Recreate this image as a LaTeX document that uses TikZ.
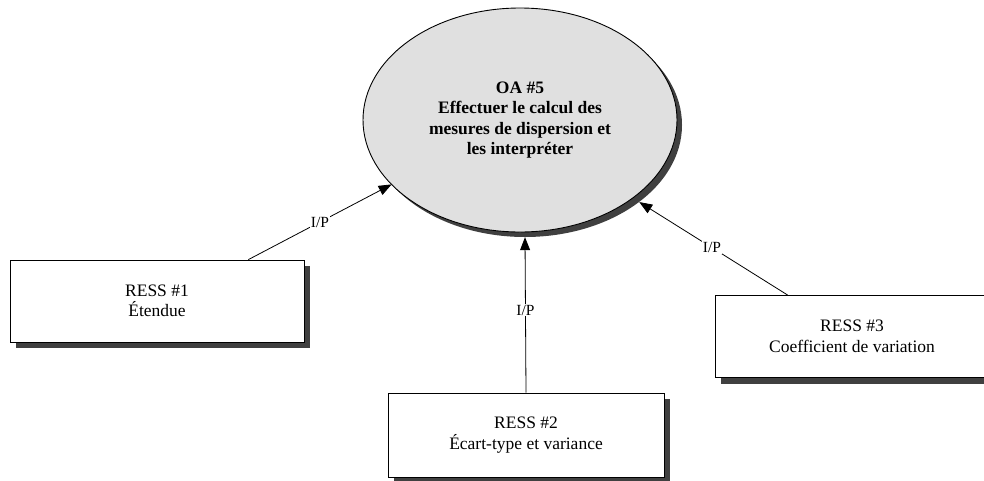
\documentclass[tikz,border=0pt]{standalone}
\usepackage{fontspec}
\setmainfont{Liberation Serif}
\usetikzlibrary{shapes.geometric,arrows.meta,calc}

\definecolor{shadowgray}{HTML}{404040}
\definecolor{goalfill}{HTML}{E0E0E0}

\tikzset{
  goal/.style={ellipse, draw=black, line width=0.9pt, fill=goalfill,
    minimum width=314pt, minimum height=224pt, inner sep=0pt,
    align=center, font=\fontsize{17.5}{20.5}\selectfont\bfseries},
  goalshadow/.style={ellipse, fill=shadowgray, draw=none,
    minimum width=314pt, minimum height=224pt, inner sep=0pt},
  ress/.style={rectangle, draw=black, line width=0.8pt, fill=white,
    minimum height=82pt, inner sep=0pt, align=center,
    font=\fontsize{17.5}{20.5}\selectfont},
  ressshadow/.style={rectangle, fill=shadowgray, draw=none,
    minimum height=82pt, inner sep=0pt},
  link/.style={draw=black, line width=0.8pt,
    -{Triangle[length=13pt,width=10pt]}},
  linklabel/.style={fill=white, inner sep=1pt,
    font=\fontsize{15.5}{17}\selectfont}
}

\begin{document}
\begin{tikzpicture}[x=1pt,y=-1pt]
  \useasboundingbox (0,0) rectangle (984,480);
  \clip (0,0) rectangle (984,480);

  % learning goal with its drop shadow
  \node[goalshadow] (oashadow) at (525,125) {};
  \node[goal] (oa) at (520,120)
    {OA \#5\\Effectuer le calcul des\\mesures de dispersion et\\les interpréter};

  % resources with their drop shadows
  \node[ressshadow, minimum width=294pt] (r1shadow) at (163,307) {};
  \node[ress, minimum width=294pt] (r1) at (157,301) {RESS \#1\\Étendue};

  \node[ressshadow, minimum width=276pt, minimum height=84pt] (r2shadow) at (532,441) {};
  \node[ress, minimum width=276pt, minimum height=84pt] (r2) at (526,435) {RESS \#2\\Écart-type et variance};

  \node[ressshadow, minimum width=274pt] (r3shadow) at (858,342.5) {};
  \node[ress, minimum width=274pt] (r3) at (852,336.5) {RESS \#3\\Coefficient de variation};

  % attachment points on the resource boxes
  \coordinate (s1) at ($(r1.north west)!0.81!(r1.north east)$);
  \coordinate (s3) at ($(r3.north west)!0.266!(r3.north east)$);

  % I/P links towards the goal
  \draw[link] (s1) -- (oashadow.204.3) node[linklabel, pos=0.5] {I/P};
  \draw[link] (r2.north) -- (oashadow.south) node[linklabel, pos=0.53] {I/P};
  \draw[link] (s3) -- (oashadow.326.6) node[linklabel, pos=0.51] {I/P};
\end{tikzpicture}
\end{document}
